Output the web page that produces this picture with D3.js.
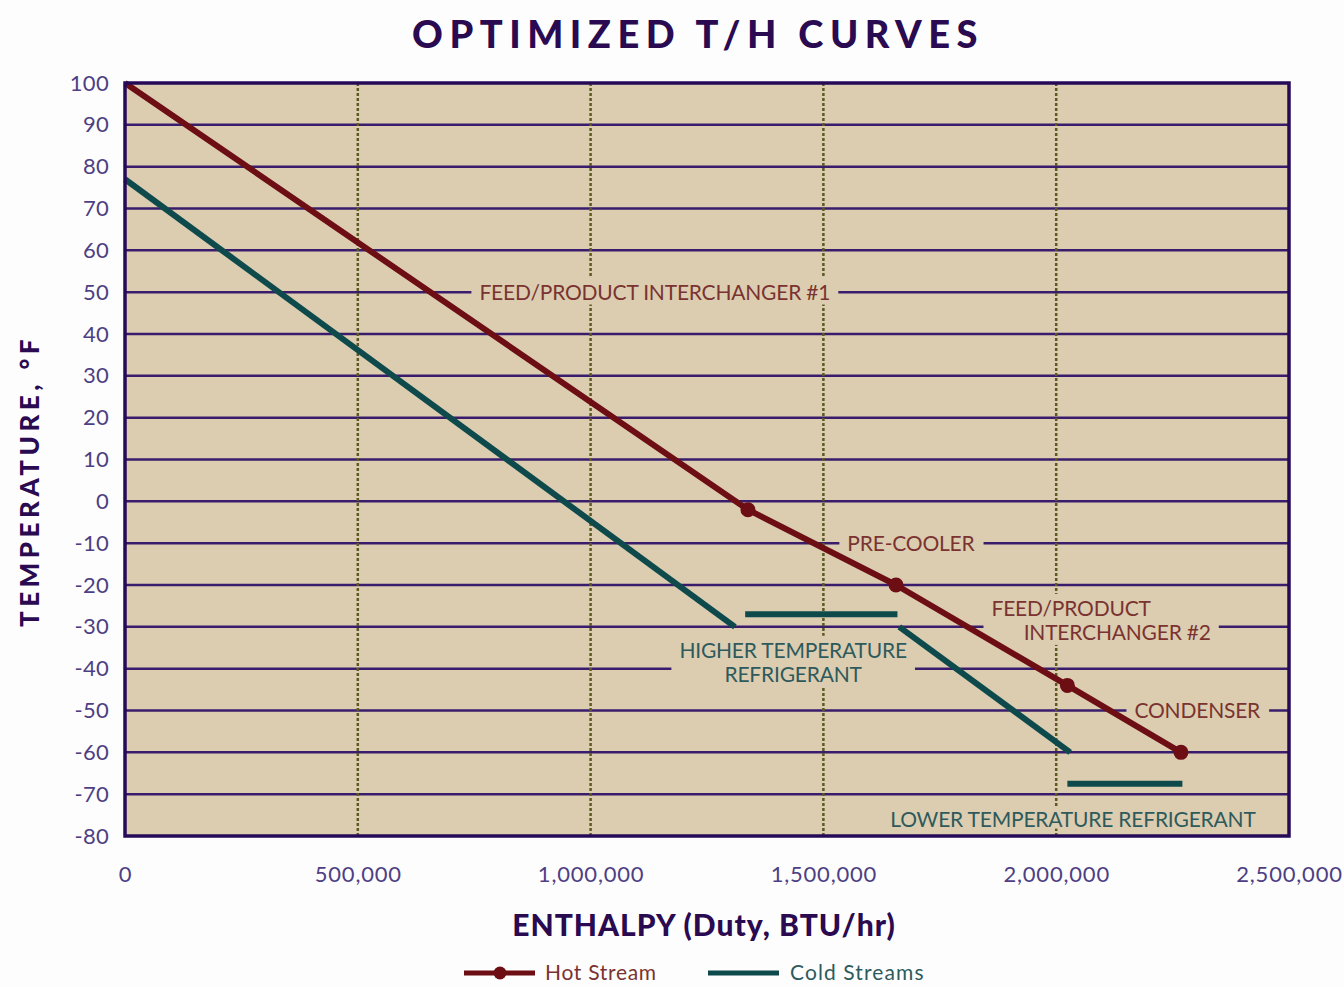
<!DOCTYPE html>
<html><head><meta charset="utf-8">
<script src="https://cdn.jsdelivr.net/npm/d3@7"></script>
<style>
html,body{margin:0;padding:0;background:#fdfdfd;}
svg{display:block;}
</style></head>
<body>
<svg id="chart" width="1344" height="987"></svg>
<script>
// ---- data ----
const yTicks = [100, 90, 80, 70, 60, 50, 40, 30, 20, 10, 0, -10, -20, -30, -40, -50, -60, -70, -80];
const xTicks = [0, 500000, 1000000, 1500000, 2000000, 2500000];
const xTickLabels = ["0", "500,000", "1,000,000", "1,500,000", "2,000,000", "2,500,000"];
const hotDuty = [0, 1338000, 1656000, 2024000, 2268000];
const hotTemp = [100, -2, -20, -44, -60];
const hotMarkerIdx = [1, 2, 3, 4];
// cold streams: segments
const coldFeed1 = [[0, 77], [1310000, -30]];
const coldHighRef = [[1332000, -27], [1659000, -27]];
const coldFeed2 = [[1663000, -30], [2030000, -60]];
const coldLowRef = [[2024000, -67.5], [2271000, -67.5]];
const coldSegments = [coldFeed1, coldHighRef, coldFeed2, coldLowRef];
// annotations
const annotations = [
  {lines: ["FEED/PRODUCT INTERCHANGER #1"], duty: 1138000, temp: 50, stream: "hot"},
  {lines: ["PRE-COOLER"], duty: 1688000, temp: -10, stream: "hot"},
  {lines: ["FEED/PRODUCT", "INTERCHANGER #2"], duty: [2032000, 2131000], temp: -28.5, stream: "hot"},
  {lines: ["HIGHER TEMPERATURE", "REFRIGERANT"], duty: [1435000, 1435000], temp: -38.5, stream: "cold"},
  {lines: ["CONDENSER"], duty: 2303000, temp: -50, stream: "hot"},
  {lines: ["LOWER TEMPERATURE REFRIGERANT"], duty: 2036000, temp: -76, stream: "cold", tight: true}
];

// ---- styles ----
const C = {
  bg: "#dccdb1", grid: "#3a1c6c", border: "#260a58", vgrid: "#5c5a22",
  hot: "#6c0e14", cold: "#0e4a4c", hotText: "#7a3330", coldText: "#2e5a5c",
  tick: "#4e3f84", title: "#2a0a50"
};
const FONT = "Lato, 'Noto Sans', sans-serif";

const svg = d3.select("#chart");
const L = 125, R = 1289, T = 83, B = 836;
const x = d3.scaleLinear().domain([0, 2500000]).range([L, R]);
const y = d3.scaleLinear().domain([-80, 100]).range([B, T]);

// background
svg.append("rect").attr("x", L).attr("y", T).attr("width", R - L).attr("height", B - T).attr("fill", C.bg);

// horizontal grid
svg.append("g").selectAll("line").data(yTicks.filter(d => d > -80 && d < 100)).join("line")
  .attr("x1", L).attr("x2", R).attr("y1", d => y(d)).attr("y2", d => y(d))
  .attr("stroke", C.grid).attr("stroke-width", 2.5);
// vertical dotted grid
svg.append("g").selectAll("line").data(xTicks.filter(d => d > 0 && d < 2500000)).join("line")
  .attr("x1", d => x(d)).attr("x2", d => x(d)).attr("y1", T).attr("y2", B)
  .attr("stroke", C.vgrid).attr("stroke-width", 2.5).attr("stroke-dasharray", "3,2");

// annotation backgrounds + text
const annG = svg.append("g");
const lineH = 24;
annotations.forEach(a => {
  const g = annG.append("g");
  const texts = a.lines.map((t, i) => {
    const dx = Array.isArray(a.duty) ? a.duty[i] : a.duty;
    const n = a.lines.length;
    const cy = y(a.temp) + (i - (n - 1) / 2) * lineH;
    return g.append("text").attr("x", x(dx)).attr("y", cy).attr("dy", "0.35em")
      .attr("text-anchor", "middle").attr("font-family", FONT).attr("font-size", 21)
      .attr("letter-spacing", "-0.2px")
      .attr("fill", a.stream === "hot" ? C.hotText : C.coldText).text(t);
  });
  let x0 = Infinity, x1 = -Infinity, y0 = Infinity, y1 = -Infinity;
  texts.forEach(t => { const b = t.node().getBBox(); x0 = Math.min(x0, b.x); x1 = Math.max(x1, b.x + b.width); y0 = Math.min(y0, b.y); y1 = Math.max(y1, b.y + b.height); });
  const pv = a.tight ? -2 : 1;
  g.insert("rect", "text").attr("x", x0 - 8).attr("y", y0 - pv).attr("width", x1 - x0 + 16).attr("height", y1 - y0 + 2 * pv).attr("fill", C.bg);
});

// cold streams
const line = d3.line().x(d => x(d[0])).y(d => y(d[1]));
svg.append("g").selectAll("path").data(coldSegments).join("path")
  .attr("d", line).attr("fill", "none").attr("stroke", C.cold).attr("stroke-width", 6);

// hot stream
const hotData = hotDuty.map((d, i) => [d, hotTemp[i]]);
svg.append("path").datum(hotData).attr("d", line).attr("fill", "none")
  .attr("stroke", C.hot).attr("stroke-width", 6).attr("stroke-linejoin", "round");
svg.append("g").selectAll("circle").data(hotMarkerIdx.map(i => hotData[i])).join("circle")
  .attr("cx", d => x(d[0])).attr("cy", d => y(d[1])).attr("r", 7.5).attr("fill", C.hot);

// border
svg.append("rect").attr("x", L).attr("y", T).attr("width", R - L).attr("height", B - T)
  .attr("fill", "none").attr("stroke", C.border).attr("stroke-width", 3.5);

// axes
const yAxis = svg.append("g").attr("transform", `translate(${L},0)`)
  .call(d3.axisLeft(y).tickValues(yTicks).tickSize(0).tickPadding(16).tickFormat(d => String(d)));
yAxis.select(".domain").remove();
yAxis.selectAll("text").attr("font-family", FONT).attr("font-size", 22).attr("fill", C.tick).attr("letter-spacing", "0.3px");

const xAxis = svg.append("g").attr("transform", `translate(0,${B})`)
  .call(d3.axisBottom(x).tickValues(xTicks).tickSize(0).tickPadding(30).tickFormat((d, i) => xTickLabels[i]));
xAxis.select(".domain").remove();
xAxis.selectAll("text").attr("font-family", FONT).attr("font-size", 22).attr("fill", C.tick).attr("letter-spacing", "0.8px");

// titles
svg.append("text").attr("x", 698).attr("y", 35).attr("dy", "0.35em").attr("text-anchor", "middle")
  .attr("font-family", FONT).attr("font-weight", 900).attr("font-size", 38).attr("letter-spacing", "6.5px")
  .attr("fill", C.title).text("OPTIMIZED T/H CURVES");
svg.append("text").attr("transform", "translate(30,481) rotate(-90)").attr("dy", "0.35em").attr("text-anchor", "middle")
  .attr("font-family", FONT).attr("font-weight", 900).attr("font-size", 26).attr("letter-spacing", "4.5px")
  .attr("fill", C.title).text("TEMPERATURE, °F");
svg.append("text").attr("x", 704).attr("y", 925).attr("dy", "0.35em").attr("text-anchor", "middle")
  .attr("font-family", FONT).attr("font-weight", 900).attr("font-size", 30).attr("letter-spacing", "1px")
  .attr("fill", C.title).text("ENTHALPY (Duty, BTU/hr)");

// legend
const leg = svg.append("g");
leg.append("line").attr("x1", 464).attr("x2", 535).attr("y1", 973).attr("y2", 973).attr("stroke", C.hot).attr("stroke-width", 5);
leg.append("circle").attr("cx", 500).attr("cy", 973).attr("r", 6.5).attr("fill", C.hot);
leg.append("text").attr("x", 545).attr("y", 973).attr("dy", "0.35em").attr("font-family", FONT).attr("font-size", 21)
  .attr("fill", C.hotText).attr("letter-spacing", "0.7px").text("Hot Stream");
leg.append("line").attr("x1", 708).attr("x2", 779).attr("y1", 973).attr("y2", 973).attr("stroke", C.cold).attr("stroke-width", 5);
leg.append("text").attr("x", 790).attr("y", 973).attr("dy", "0.35em").attr("font-family", FONT).attr("font-size", 21)
  .attr("fill", C.coldText).attr("letter-spacing", "1.1px").text("Cold Streams");
</script>
</body></html>
